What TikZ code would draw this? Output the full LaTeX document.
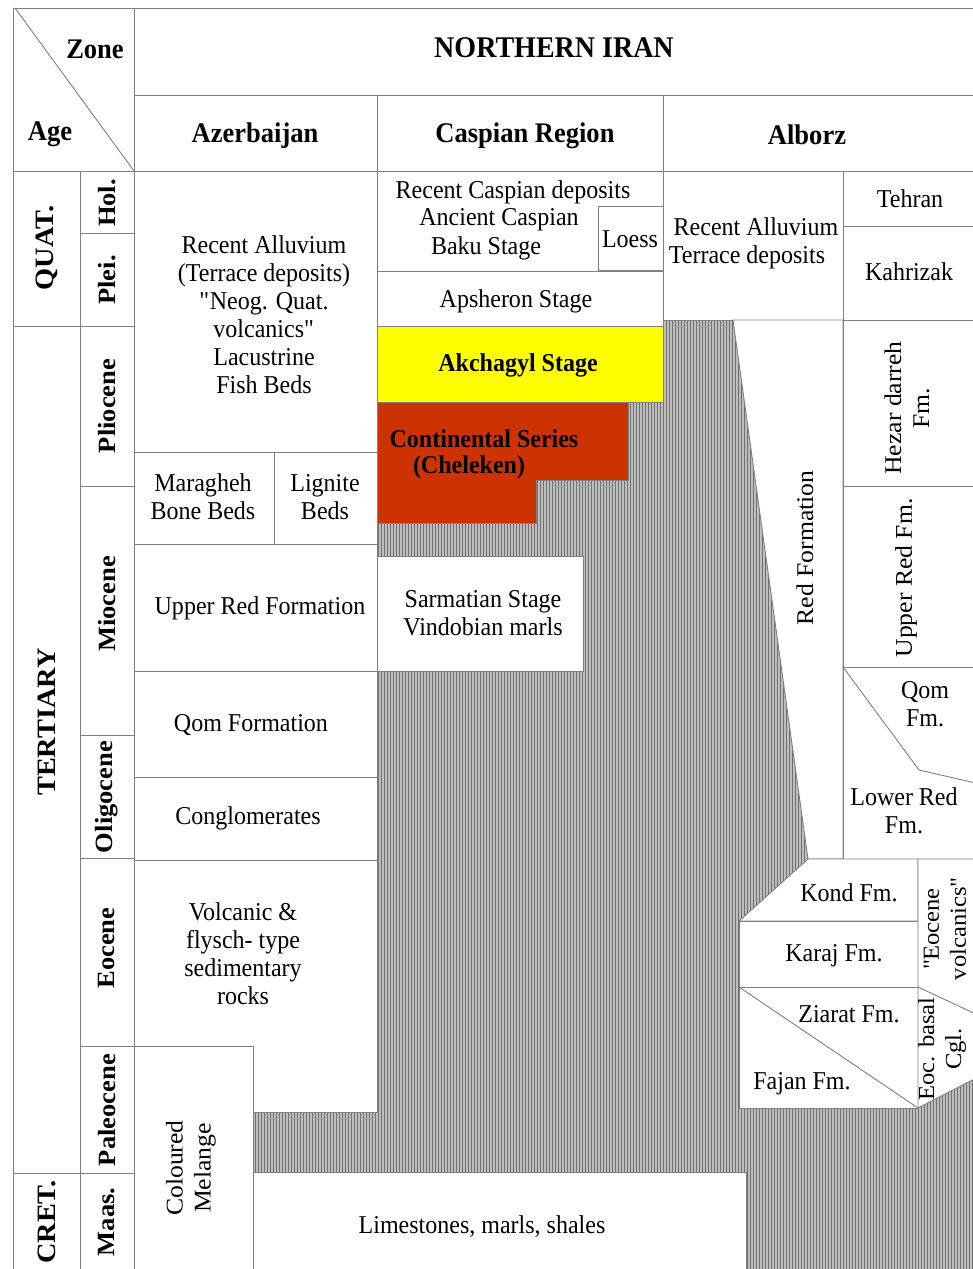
\documentclass[tikz,border=0pt]{standalone}
\usepackage{fontspec}
\setmainfont{Liberation Serif}
\newfontfamily\horfont{Liberation Serif}[FakeStretch=0.934]
\newfontfamily\rotfont{Liberation Serif}[FakeStretch=1.07]
\usetikzlibrary{patterns.meta}
\definecolor{akyellow}{HTML}{FFFF00}
\definecolor{contred}{HTML}{CC3300}
\definecolor{hatchbg}{HTML}{BDBDBD}
\definecolor{hatchfg}{HTML}{707070}
\definecolor{lncol}{HTML}{808080}
\tikzset{
  ln/.style={draw=lncol, line width=0.9pt},
  wbox/.style={fill=white, draw=lncol, line width=0.9pt},
  txt/.style={font=\horfont\fontsize{25.7}{28}\selectfont, align=center, inner sep=0pt},
  rtxt/.style={font=\rotfont\fontsize{24}{28}\selectfont, align=center, inner sep=0pt, rotate=90},
  btxt/.style={font=\horfont\fontsize{28.4}{30}\selectfont\bfseries, align=center, inner sep=0pt},
  bctxt/.style={font=\horfont\fontsize{25.7}{28}\selectfont\bfseries, align=center, inner sep=0pt},
  brtxt/.style={font=\rotfont\fontsize{24.8}{28}\selectfont\bfseries, align=center, inner sep=0pt, rotate=90},
}
\begin{document}
\begin{tikzpicture}[x=1pt,y=-1pt]
\useasboundingbox (0,0) rectangle (972,1269);
\fill[white] (0,0) rectangle (972,1269);
% hatched background (undifferentiated / gap)
\fill[hatchbg] (253,320) rectangle (980,1280);
\fill[pattern={Lines[angle=90,distance=3pt,line width=1pt]}, pattern color=hatchfg] (253,320) rectangle (980,1280);

% ---------- header ----------
\draw[ln] (13,1280) -- (13,8) -- (980,8);
\draw[ln] (15,8) -- (134,171);
\draw[ln] (134,8) -- (134,1280);
\draw[ln] (134,95) -- (980,95);
\draw[ln] (13,171) -- (980,171);
\draw[ln] (377,95) -- (377,171);
\draw[ln] (663,95) -- (663,171);
\node[btxt] (zone) at (95,49) {Zone};
\node[btxt] (age) at (50,134) {Age};
\node[btxt, font=\horfont\fontsize{30}{32}\selectfont\bfseries] (niran) at (554,48) {NORTHERN IRAN};
\node[btxt] (azer) at (255,136) {Azerbaijan};
\node[btxt] (casp) at (525,136) {Caspian Region};
\node[btxt] (alb) at (807,135) {Alborz};

% ---------- age columns ----------
\draw[ln] (80,171) -- (80,1280);
\draw[ln] (13,326) -- (134,326);
\draw[ln] (13,1173) -- (134,1173);
\foreach \yy in {233,486,735,858,1046} \draw[ln] (80,\yy) -- (134,\yy);
\node[brtxt, font=\rotfont\fontsize{26.5}{28}\selectfont\bfseries] (quat) at (47,248) {QUAT.};
\node[brtxt, font=\rotfont\fontsize{26.5}{28}\selectfont\bfseries] (tert) at (47,722) {TERTIARY};
\node[brtxt, font=\rotfont\fontsize{26.5}{28}\selectfont\bfseries] (cret) at (47,1222) {CRET.};
\node[brtxt] (hol) at (107,203) {Hol.};
\node[brtxt] (plei) at (107,280) {Plei.};
\node[brtxt] (plio) at (107,406) {Pliocene};
\node[brtxt] (mio) at (107,604) {Miocene};
\node[brtxt] (oligo) at (107,797) {Oligocene};
\node[brtxt] (eoc) at (107,948) {Eocene};
\node[brtxt] (paleo) at (107,1110) {Paleocene};
\node[brtxt] (maas) at (107,1222) {Maas.};

% ---------- Azerbaijan ----------
\draw[wbox] (134,171) rectangle (377,452);
\draw[wbox] (134,452) rectangle (274,544);
\draw[wbox] (274,452) rectangle (377,544);
\draw[wbox] (134,544) rectangle (377,671);
\draw[wbox] (134,671) rectangle (377,777);
\draw[wbox] (134,777) rectangle (377,860);
\draw[wbox] (134,860) -- (377,860) -- (377,1112) -- (253,1112) -- (253,1046) -- (134,1046) -- cycle;
\draw[wbox] (134,1280) -- (134,1046) -- (253,1046) -- (253,1280);
\node[txt] (recall) at (264,315) {Recent Alluvium\\(Terrace deposits)\\\textquotedbl Neog. Quat.\\volcanics\textquotedbl\\Lacustrine\\Fish Beds};
\node[txt] (marag) at (203,497) {Maragheh\\Bone Beds};
\node[txt] (lign) at (325,497) {Lignite\\Beds};
\node[txt] (upred) at (260,608) {Upper Red Formation};
\node[txt] (qomf) at (251,725) {Qom Formation};
\node[txt] (congl) at (248,818) {Conglomerates};
\node[txt] (volc) at (243,954) {Volcanic \&\\flysch- type\\sedimentary\\rocks};
\node[rtxt] (melange) at (191,1168) {Coloured\\Melange};

% ---------- Caspian ----------
\draw[wbox] (377,171) rectangle (663,271);
\draw[wbox] (598,206) rectangle (663,270);
\draw[wbox] (377,271) rectangle (663,326);
\draw[ln, fill=akyellow] (377,326) rectangle (663,402);
\draw[ln, fill=contred] (377,402) -- (628,402) -- (628,480) -- (536,480) -- (536,523) -- (377,523) -- cycle;
\draw[wbox] (377,556) rectangle (583,671);
\node[txt] (rcd) at (513,192) {Recent Caspian deposits};
\node[txt] (anc) at (499,220) {Ancient Caspian};
\node[txt] (baku) at (486,248) {Baku Stage};
\node[txt] (loess) at (630,239) {Loess};
\node[txt] (aps) at (516,301) {Apsheron Stage};
\node[bctxt] (akch) at (518,365) {Akchagyl Stage};
\node[bctxt] (cont) at (484,439) {Continental Series};
\node[bctxt] (chel) at (469,467) {(Cheleken)};
\node[txt] (sarm) at (483,613) {Sarmatian Stage\\Vindobian marls};

% ---------- Alborz ----------
\draw[wbox] (663,171) rectangle (843,320);
\draw[wbox] (843,171) rectangle (980,226);
\draw[wbox] (843,226) rectangle (980,320);
\draw[wbox] (733,320) -- (843,320) -- (843,859) -- (808,859) -- cycle;
\draw[wbox] (843,320) rectangle (980,486);
\draw[wbox] (843,486) rectangle (980,667);
\draw[wbox] (843,667) rectangle (980,859);
\draw[ln] (843,667) -- (919,770) -- (980,784);
\draw[wbox] (808,859) -- (918,859) -- (918,921) -- (739,921) -- cycle;
\draw[wbox] (739,921) rectangle (918,987);
\draw[wbox] (739,987) rectangle (918,1108);
\draw[ln] (739,987) -- (918,1108);
\draw[wbox] (918,859) -- (980,859) -- (980,1076) -- (918,1108) -- cycle;
\draw[ln] (918,987) -- (980,1016);
\node[txt] (ra1) at (756,227) {Recent Alluvium};
\node[txt] (ra2) at (747,257) {Terrace deposits};
\node[txt] (teh) at (910,199) {Tehran};
\node[txt] (kah) at (909,272) {Kahrizak};
\node[rtxt] (redf) at (805,548) {Red Formation};
\node[rtxt] (hez) at (907,408) {Hezar darreh\\Fm.};
\node[rtxt] (urf) at (906,578) {Upper Red Fm.};
\node[txt] (qomfm) at (925,704) {Qom\\Fm.};
\node[txt] (lrf) at (904,811) {Lower Red\\Fm.};
\node[txt] (kond) at (849,893) {Kond Fm.};
\node[txt] (karaj) at (834,956) {Karaj Fm.};
\node[txt] (ziar) at (849,1014) {Ziarat Fm.};
\node[txt] (fajan) at (802,1084) {Fajan Fm.};
\node[rtxt, font=\rotfont\fontsize{23}{27}\selectfont] (eocv) at (945,929) {\textquotedbl Eocene\\volcanics\textquotedbl};
\node[rtxt, font=\rotfont\fontsize{23}{27}\selectfont] (eocb) at (942,1049) {Eoc. basal\\Cgl.};

% ---------- bottom ----------
\draw[wbox] (253,1280) -- (253,1172) -- (746,1172) -- (746,1280);
\node[txt] (lime) at (482,1227) {Limestones, marls, shales};
\end{tikzpicture}
\end{document}
